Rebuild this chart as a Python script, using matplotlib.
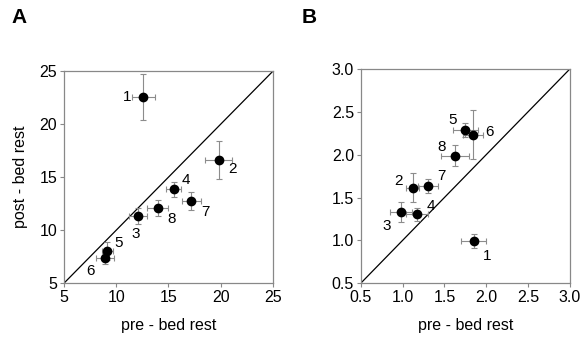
import matplotlib
matplotlib.use('Agg')
import matplotlib.pyplot as plt

plt.rcParams['font.family'] = ['Liberation Sans', 'DejaVu Sans']

# panel A
a_ids = ['1', '2', '3', '4', '5', '6', '7', '8']
a_pre = [12.6, 19.8, 12.1, 15.5, 9.15, 8.9, 17.2, 13.95]
a_post = [22.55, 16.65, 11.35, 13.85, 8.0, 7.35, 12.75, 12.1]
a_pre_err = [1.1, 1.3, 0.85, 0.7, 0.5, 0.85, 0.9, 1.0]
a_post_err = [2.15, 1.8, 0.75, 0.7, 0.85, 0.5, 0.85, 0.75]

# panel B
b_ids = ['1', '2', '3', '4', '5', '6', '7', '8']
b_pre = [1.85, 1.12, 0.98, 1.17, 1.75, 1.84, 1.30, 1.63]
b_post = [0.99, 1.615, 1.33, 1.305, 2.29, 2.235, 1.635, 1.99]
b_pre_err = [0.15, 0.08, 0.13, 0.13, 0.15, 0.12, 0.12, 0.17]
b_post_err = [0.08, 0.17, 0.12, 0.075, 0.08, 0.29, 0.08, 0.12]

# label offsets in points
a_off = [(-12, 0), (10, -7), (-2, -13), (9, 7), (8, 6), (-10, -9), (10, -8), (10, -8)]
b_off = [(10, -11), (-10, 5), (-10, -10), (10, 6), (-9, 7), (12, 2), (10, 7), (-10, 6)]

fig = plt.figure(figsize=(5.82, 3.47), dpi=100)
axA = fig.add_axes([0.110, 0.184, 0.359, 0.611])
axB = fig.add_axes([0.620, 0.184, 0.359, 0.617])

def draw(ax, pre, post, xerr, yerr, ids, offs, lim, ticks, ticklabels):
    ax.plot(lim, lim, color='black', lw=0.9, zorder=1)
    ax.errorbar(pre, post, xerr=xerr, yerr=yerr, fmt='none', ecolor='#8c8c8c',
                elinewidth=0.8, capsize=2, capthick=0.8, zorder=2)
    ax.scatter(pre, post, s=36, color='black', zorder=3)
    for x, y, t, (dx, dy) in zip(pre, post, ids, offs):
        ax.annotate(t, (x, y), xytext=(dx, dy), textcoords='offset points',
                    ha='center', va='center', fontsize=11)
    ax.set_xlim(lim)
    ax.set_ylim(lim)
    ax.set_xticks(ticks)
    ax.set_yticks(ticks)
    ax.set_xticklabels(ticklabels)
    ax.set_yticklabels(ticklabels)
    for s in ax.spines.values():
        s.set_color('#888888')
        s.set_linewidth(0.9)
    ax.tick_params(direction='out', length=3, width=0.8, color='#888888',
                   labelsize=11.5, pad=2)
    ax.set_xlabel('pre - bed rest', fontsize=11.5, labelpad=9)

draw(axA, a_pre, a_post, a_pre_err, a_post_err, a_ids, a_off,
     [5, 25], [5, 10, 15, 20, 25], ['5', '10', '15', '20', '25'])
axA.set_ylabel('post - bed rest', fontsize=11.5, labelpad=8)

draw(axB, b_pre, b_post, b_pre_err, b_post_err, b_ids, b_off,
     [0.5, 3.0], [0.5, 1.0, 1.5, 2.0, 2.5, 3.0],
     ['0.5', '1.0', '1.5', '2.0', '2.5', '3.0'])

fig.text(0.020, 0.95, 'A', fontsize=15, fontweight='bold', va='center')
fig.text(0.519, 0.95, 'B', fontsize=15, fontweight='bold', va='center')

fig.savefig('out.png', dpi=100)
